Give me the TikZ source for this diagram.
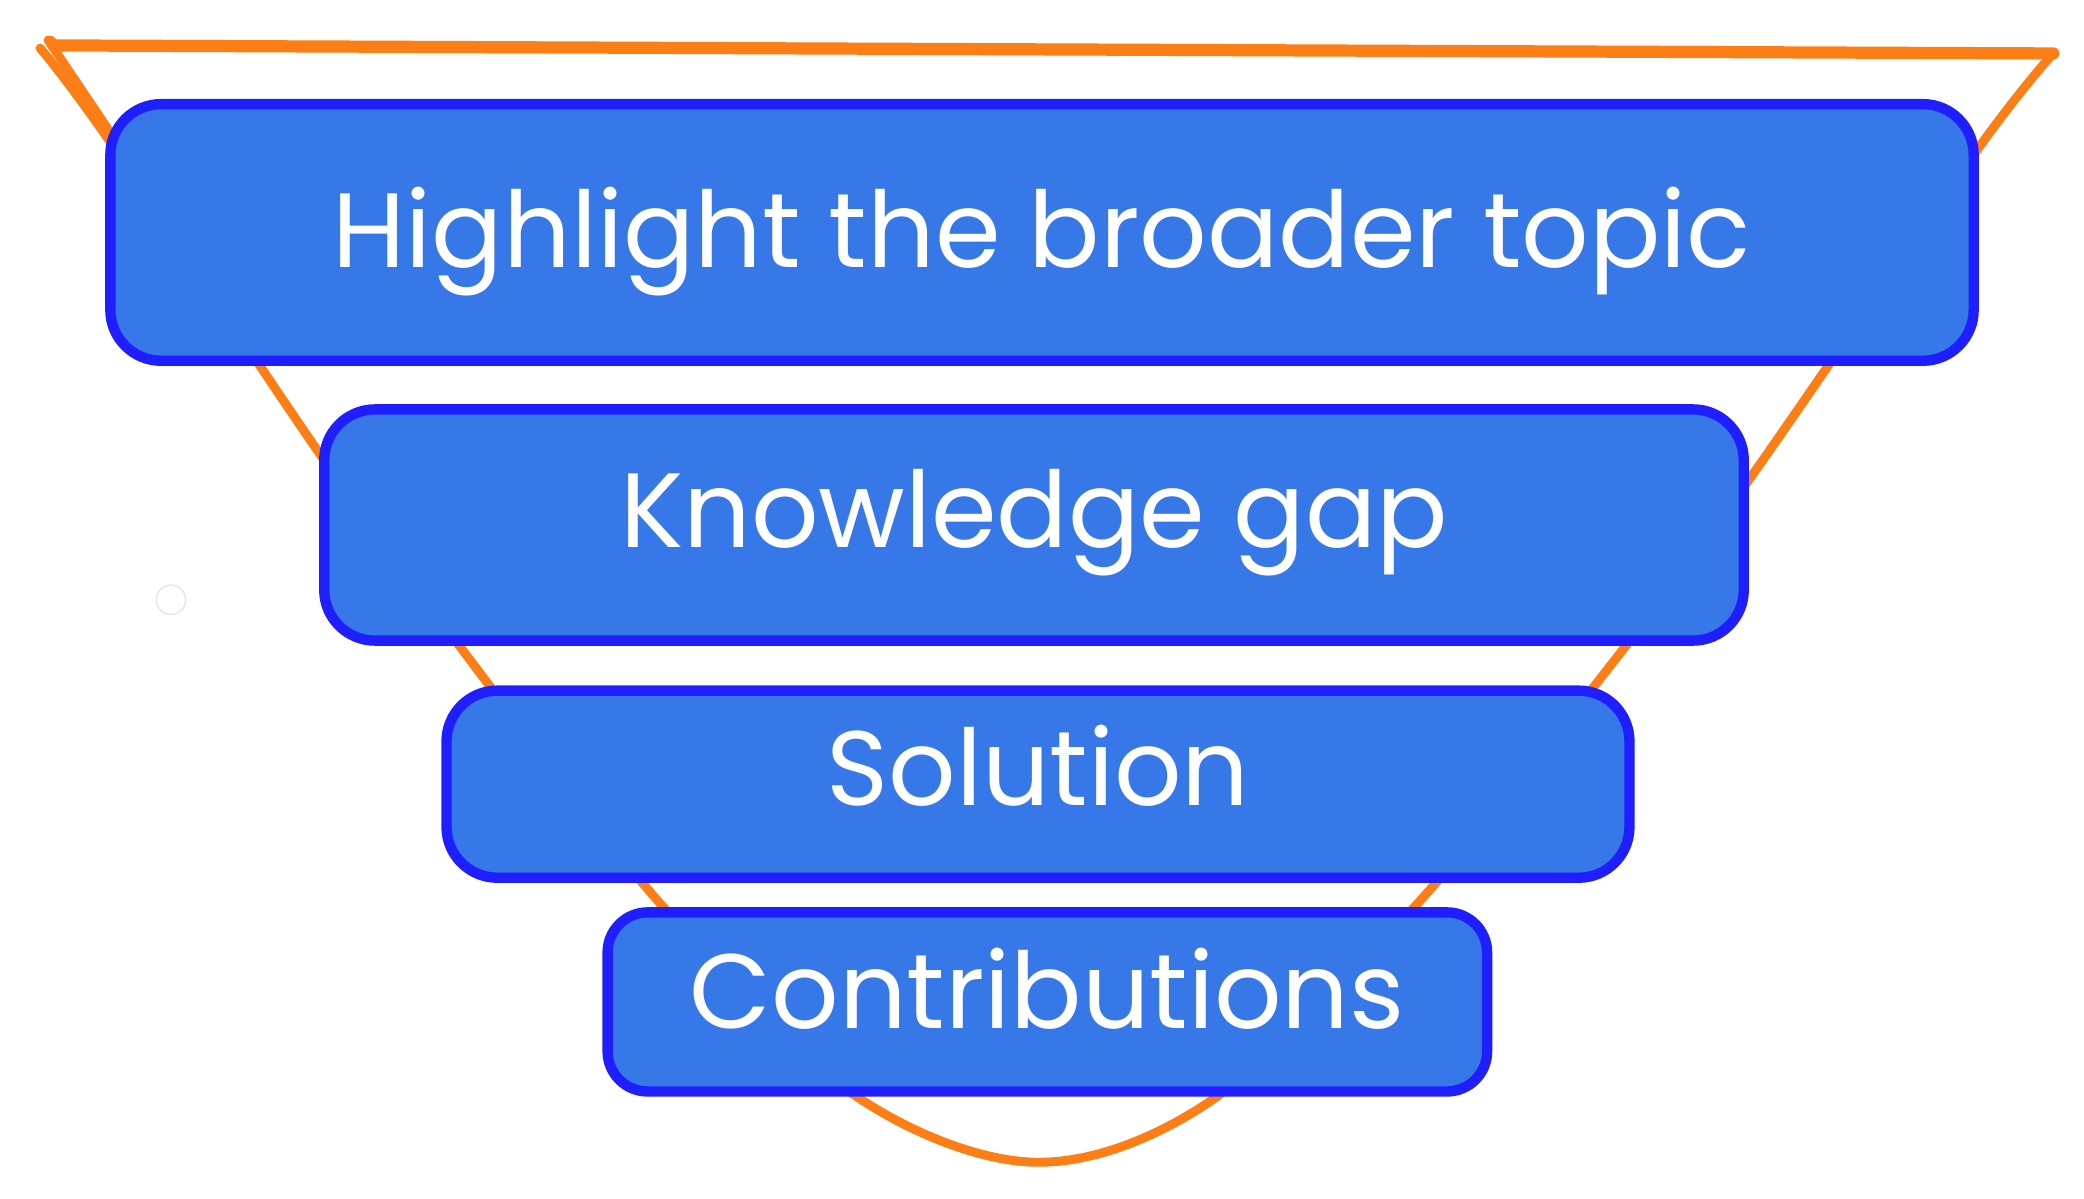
\documentclass[tikz,border=0pt]{standalone}
\usepackage{fontspec}
\setmainfont{Poppins}
\definecolor{funnel}{RGB}{253,126,20}
\definecolor{boxfill}{RGB}{54,120,232}
\definecolor{boxline}{RGB}{30,30,255}
\begin{document}
\begin{tikzpicture}[x=0.01cm,y=-0.01cm,
  layer/.style={draw=boxline, fill=boxfill, line width=2.2pt, rounded corners=0.38cm,
    text=white, font=\fontsize{22.5}{26}\selectfont, inner sep=0pt, text depth=0pt},
  funnelline/.style={draw=funnel, line width=1.9pt, line cap=round, line join=round}]
\useasboundingbox (0,0) rectangle (1560,897);
% funnel
\coordinate (tl) at (35,32);
\coordinate (tr) at (1537,40);
\draw[funnelline, line width=2.6pt] (40,34) -- (tr);
\draw[funnelline] (38,30) -- (44,37);
\draw[funnelline] plot[smooth, tension=0.55] coordinates {(30,36) (83,107) (243,345) (370,518) (500,683) (640,820) (775,870) (905,825) (1055,683) (1190,518) (1305,365) (1478,115) (1537,40)};
\draw[funnelline] (36,30) -- (83,100);
% faint dot
\draw[black!10, line width=0.3pt] (128,449) circle [radius=11];
% layers
\node[layer, minimum width=13.94cm, minimum height=1.92cm, text height=0.52cm] (l1) at (780,174) {Highlight the broader topic};
\node[layer, minimum width=10.62cm, minimum height=1.73cm, text height=0.34cm] (l2) at (774,393) {Knowledge gap};
\node[layer, minimum width=8.85cm, minimum height=1.40cm, text height=0.32cm] (l3) at (777,587) {Solution};
\node[layer, minimum width=6.58cm, minimum height=1.34cm, rounded corners=0.3cm, text height=0.40cm] (l4) at (784,750) {Contributions};
\end{tikzpicture}
\end{document}
